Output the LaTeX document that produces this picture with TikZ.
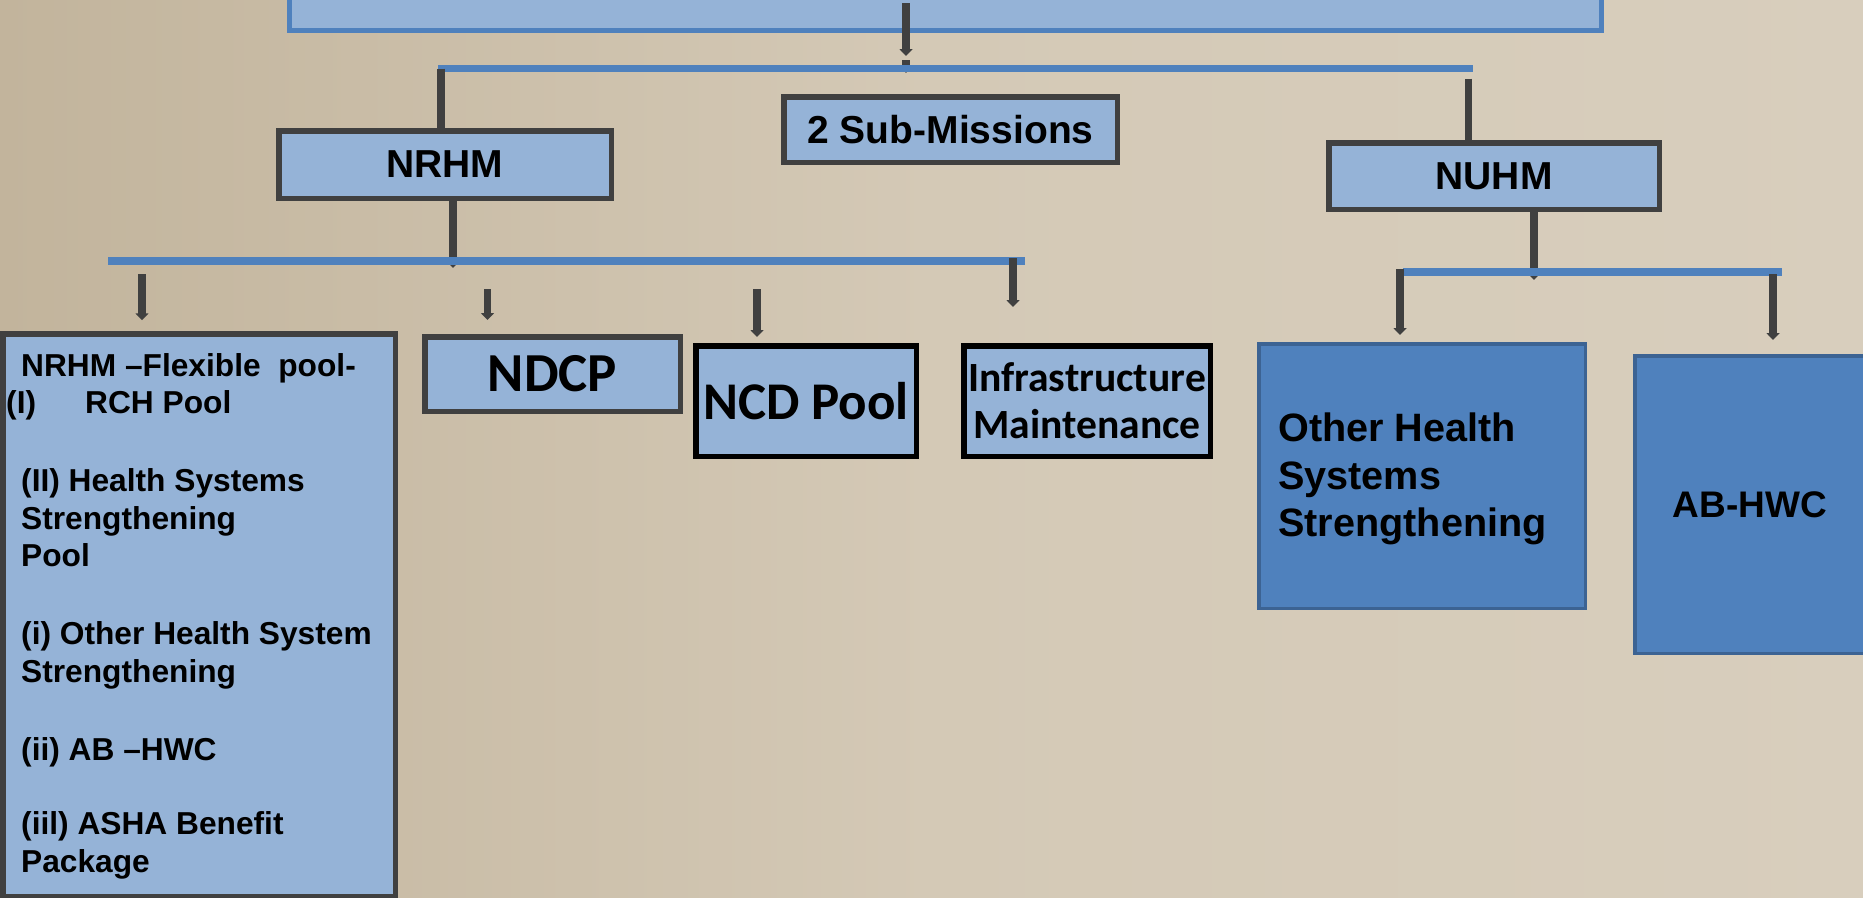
\documentclass[tikz,border=0pt]{standalone}
\usepackage{fontspec}
\setmainfont{Liberation Sans}
\newfontfamily\calfont{Carlito}
\usetikzlibrary{arrows.meta,calc}
\definecolor{lblue}{HTML}{95B3D7}
\definecolor{mblue}{HTML}{4F81BD}
\definecolor{dblue}{HTML}{3C6393}
\definecolor{dgray}{HTML}{404040}
\definecolor{bgA}{HTML}{C2B49C}
\definecolor{bgB}{HTML}{D8CEBD}
\definecolor{bgC}{HTML}{D4C9B6}
\begin{document}
\begin{tikzpicture}[x=1pt,y=-1pt,
  box/.style={draw=dgray,line width=5.5pt,fill=lblue,inner sep=0pt,font=\bfseries},
  bbox/.style={box,draw=black},
  dbox/.style={draw=dblue,line width=3.5pt,fill=mblue,inner sep=0pt},
  bus/.style={draw=mblue,line width=7.5pt},
  conn/.style={draw=dgray,line width=7.5pt},
  arr/.style={draw=dgray,line width=7.5pt,-{Triangle[width=13pt,length=7pt]}},
  lbl/.style={inner sep=0pt,font=\bfseries}]

\useasboundingbox (0,0) rectangle (1863,897);
\shade[left color=bgA,right color=bgB,middle color=bgC] (0,0) rectangle (1863,897);

% top box (cut off)
\node (top) [draw=mblue,line width=5pt,fill=lblue,minimum width=1312pt,minimum height=96pt,inner sep=0pt] at (945.5,-18) {};

% level 1
\node (nrhm) [box,minimum width=332.5pt,minimum height=67.5pt,font=\fontsize{39}{45}\bfseries] at (445,164.5) {NRHM};
\node (sub) [box,minimum width=333.5pt,minimum height=65.5pt,font=\fontsize{39}{45}\bfseries] at (950.5,129.5) {2 Sub-Missions};
\node (nuhm) [box,minimum width=330.5pt,minimum height=66.5pt,font=\fontsize{39}{45}\bfseries] at (1494,176) {NUHM};

% level 2 (NRHM)
\node (flex) [box,minimum width=392.5pt,minimum height=563pt] at (199,615.5) {};
\node (flextext) [lbl,anchor=north west,align=left,font=\fontsize{31.7}{37.5}\bfseries] at (21,353) {%
NRHM –Flexible\ \ pool-\\
\hspace*{-15pt}\makebox[79pt][l]{(I)}RCH Pool\\[40.5pt]
(II) Health Systems\\
Strengthening\\
Pool\\[40.5pt]
(i) Other Health System\\
Strengthening\\[41pt]
(ii) AB –HWC\\[36.5pt]
(iil) ASHA Benefit\\
Package};
\node (ndcp) [box,minimum width=255.5pt,minimum height=74.5pt,font=\fontsize{55}{60}\calfont\bfseries] at (552.5,374) {NDCP};
\node (ncd) [bbox,minimum width=220.5pt,minimum height=110.5pt,font=\fontsize{53}{58}\calfont\bfseries] at (806,401) {NCD Pool};
\node (infra) [bbox,minimum width=246.5pt,minimum height=110.5pt,align=center,font=\fontsize{41.6}{47}\calfont\bfseries] at (1087,401) {Infrastructure\\Maintenance};

% level 2 (NUHM)
\node (other) [dbox,minimum width=326.5pt,minimum height=264.5pt] at (1422,476) {};
\node (othertext) [lbl,anchor=north west,align=left,font=\fontsize{39.6}{47.5}\bfseries] at (1278,413) {Other Health\\Systems\\Strengthening};
\node (abhwc) [dbox,minimum width=250.5pt,minimum height=297.5pt] at (1760,504.5) {};
\node (abtext) [lbl,font=\fontsize{37}{42}\bfseries] at (1750,505) {AB-HWC};

% buses
\coordinate (b1L) at (438,68.5);
\coordinate (b1R) at (1473,68.5);
\coordinate (b2L) at (108,261);
\coordinate (b2R) at (1025,261);
\coordinate (b3L) at (1403,272);
\coordinate (b3R) at (1782,272);

% connectors
\coordinate (t1) at (906,3);
\coordinate (t2) at (906,56);
\coordinate (t3) at (906,60);
\coordinate (t4) at (906,73);
\draw[arr] (t1) -- (t2);
\draw[arr] (t3) -- (t4);
\draw[bus] (b1L) -- (b1R);
\draw[conn] ([xshift=3pt]b1L) -- ([xshift=3pt]b1L |- nrhm.north);
\draw[conn] ([xshift=-4.5pt,yshift=-10pt]b1R) -- ([xshift=-4.5pt]b1R |- nuhm.north);

\draw[arr] ([xshift=8pt]nrhm.south) -- ([xshift=8pt]nrhm.south |- 0,268);
\draw[bus,line width=8pt] (b2L) -- (b2R);
\coordinate (c1) at (142,274);
\coordinate (c2) at (487.5,289);
\coordinate (c3) at (757,289);
\coordinate (c4) at (1013,258);
\draw[arr] (c1) -- ([yshift=11pt]c1 |- flex.north);
\draw[arr] (c2) -- ([yshift=14pt]c2 |- ndcp.north);
\draw[arr] (c3) -- ([yshift=6pt]c3 |- ncd.north);
\draw[arr] (c4) -- ([yshift=36pt]c4 |- infra.north);

\draw[arr] ([xshift=40pt,yshift=3pt]nuhm.south) -- ([xshift=40pt]nuhm.south |- 0,280);
\draw[bus] (b3L) -- (b3R);
\coordinate (d1) at (1400,269);
\coordinate (d2) at (1773,274);
\draw[arr] (d1) -- ([yshift=7pt]d1 |- other.north);
\draw[arr] (d2) -- ([yshift=14pt]d2 |- abhwc.north);
\end{tikzpicture}
\end{document}
